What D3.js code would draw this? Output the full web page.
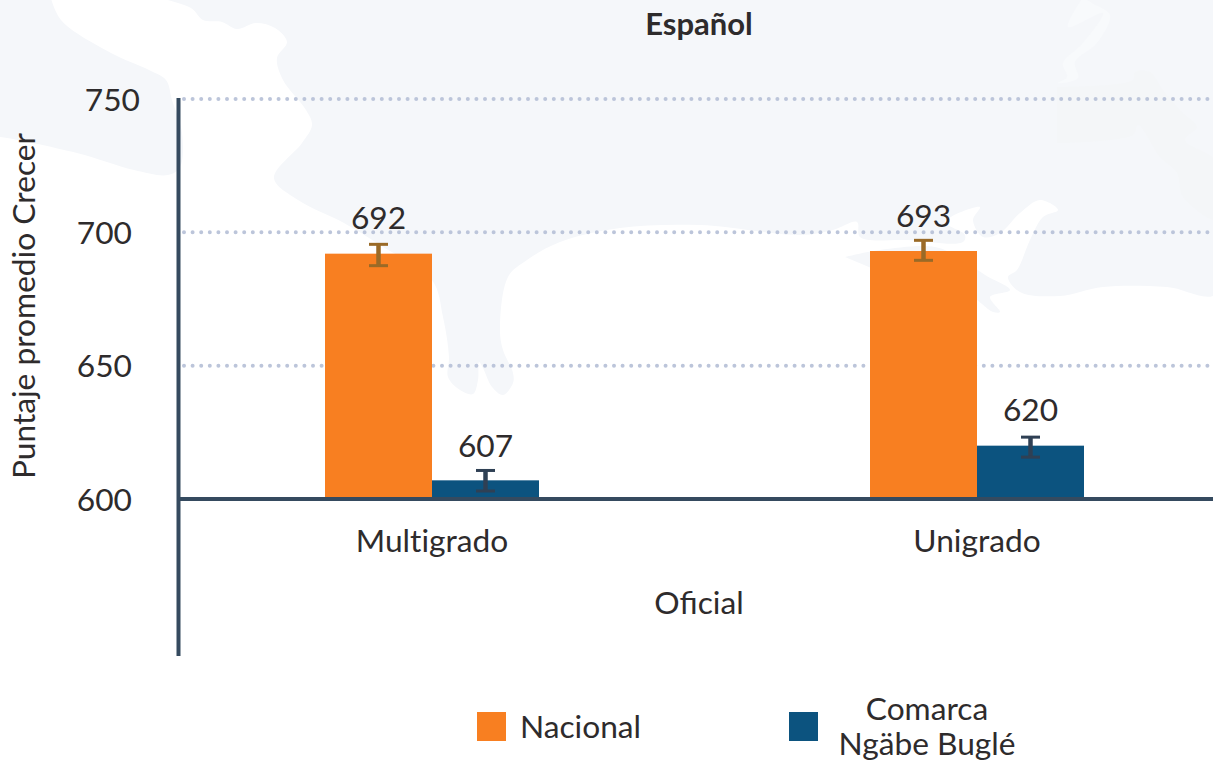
<!DOCTYPE html>
<html><head><meta charset="utf-8">
<script src="https://cdn.jsdelivr.net/npm/d3@7/dist/d3.min.js"></script>
<style>html,body{margin:0;padding:0;background:#fff;overflow:hidden}svg{display:block}text{font-family:Lato,sans-serif;fill:#2e2b2c}</style>
</head><body><svg id="c" width="1213" height="761"></svg>
<script>
const categories = ["Multigrado", "Unigrado"];
const seriesNames = ["Nacional", "Comarca Ngäbe Buglé"];
const nacional = [692, 693];
const comarca = [607, 620];
const nacionalLow = [687.5, 689.5];
const nacionalHigh = [695.5, 697];
const comarcaLow = [603, 615.7];
const comarcaHigh = [610.7, 623.2];
const yTicks = [600, 650, 700, 750];
const colors = ["#f87f21", "#0c537f"];
const errorColors = ["#9a6a27", "#2f4054"];

const svg = d3.select("#c");
const y = d3.scaleLinear().domain([600, 750]).range([499, 99]);
const x = d3.scaleBand().domain(categories).range([159.5, 1249.5]);
const inner = d3.scaleBand().domain(seriesNames).range([x.bandwidth()/2 - 107, x.bandwidth()/2 + 107]);

// decorative background map
const bg = svg.append("g").attr("fill", "#f5f7fa");
const curve = d3.line().curve(d3.curveCatmullRom.alpha(0.5));
const leftLand = [[50,-5],[61,20],[111,53],[149,70],[166,80],[172,100],[182,133],[180,167],[168,175],[134,170],[77,153],[0,137],[-5,137],[-5,-5]];
const mainLand = [[147,-5],[191,8],[203,20],[222,22],[237,29],[256,23],[275,28],[287,42],[277,58],[283,80],[306,110],[312,125],[302,143],[274,178],[298,200],[344,223],[380,245],[432,280],[443,317],[449,357],[448,377],[460,390],[473,394],[478,380],[479,362],[483,368],[492,387],[503,395],[513,383],[513,373],[503,350],[500,330],[508,277],[527,260],[560,242],[620,228],[700,225],[800,235],[833,230],[857,222],[860,237],[907,240],[963,242],[965,235],[945,222],[980,207],[973,220],[983,237],[1000,233],[1020,213],[1040,200],[1058,210],[1043,217],[1030,240],[1017,270],[1008,277],[1020,292],[1060,296],[1103,287],[1167,287],[1218,293],[1218,-5]];
const island = [[845,257],[880,250],[935,247],[960,258],[985,275],[1010,290],[990,297],[1000,312],[993,312],[965,292],[900,280]];
[leftLand, mainLand, island].forEach(p => bg.append("path").attr("d", curve(p) + "Z"));
const coast = [[1057,87],[1133,80],[1135,72],[1150,72],[1163,90],[1183,113],[1197,127],[1185,140],[1218,163],[1218,220],[1183,197],[1177,173],[1160,157],[1138,125],[1133,135],[1057,143]];
const strip = [[1083,-3],[1068,27],[1103,13],[1083,43],[1063,63],[1067,77],[1058,83],[1078,78],[1075,62],[1097,43],[1110,15],[1095,5]];
svg.append("path").attr("fill", "#f4f6f8").attr("d", curve(coast) + "Z");
svg.append("path").attr("fill", "#f8fafc").attr("d", curve(strip) + "Z");

// grid
yTicks.filter(t => t > 600).forEach(t => svg.append("line")
  .attr("x1", 184).attr("x2", 1213).attr("y1", y(t)).attr("y2", y(t))
  .attr("stroke", "#bcc5da").attr("stroke-width", 4).attr("stroke-linecap", "round").attr("stroke-dasharray", "0 8.6"));

// bars
const rows = categories.map((c, i) => [
  {c, s: seriesNames[0], v: nacional[i], lo: nacionalLow[i], hi: nacionalHigh[i], k: 0},
  {c, s: seriesNames[1], v: comarca[i], lo: comarcaLow[i], hi: comarcaHigh[i], k: 1}
]).flat();
svg.append("g").selectAll("rect").data(rows).join("rect")
  .attr("x", d => x(d.c) + inner(d.s)).attr("width", inner.bandwidth())
  .attr("y", d => y(d.v)).attr("height", d => y(600) - y(d.v))
  .attr("fill", d => colors[d.k]);

// axes
svg.append("line").attr("x1", 178.5).attr("x2", 178.5).attr("y1", 98).attr("y2", 656).attr("stroke", "#354a5f").attr("stroke-width", 4);
svg.append("line").attr("x1", 178).attr("x2", 1213).attr("y1", y(600)).attr("y2", y(600)).attr("stroke", "#354a5f").attr("stroke-width", 4);

// error bars
const cx = d => x(d.c) + inner(d.s) + inner.bandwidth()/2;
const eb = svg.append("g").selectAll("g").data(rows).join("g").attr("stroke", d => errorColors[d.k]).attr("stroke-width", 3);
eb.append("line").attr("x1", cx).attr("x2", cx).attr("y1", d => y(d.lo)).attr("y2", d => y(d.hi)).attr("stroke-width", 4.5);
eb.append("line").attr("x1", d => cx(d) - 9.5).attr("x2", d => cx(d) + 9.5).attr("y1", d => y(d.lo)).attr("y2", d => y(d.lo));
eb.append("line").attr("x1", d => cx(d) - 9.5).attr("x2", d => cx(d) + 9.5).attr("y1", d => y(d.hi)).attr("y2", d => y(d.hi));

// value labels
svg.append("g").selectAll("text").data(rows).join("text")
  .attr("x", cx).attr("y", d => y(d.v) - (d.v === 607 ? 23 : 24.5)).attr("text-anchor", "middle")
  .attr("font-size", 31.7).text(d => d.v);

// tick labels
const yLabelX = {600: 132, 650: 132, 700: 132, 750: 140};
svg.append("g").selectAll("text").data(yTicks).join("text")
  .attr("x", d => yLabelX[d]).attr("y", d => y(d) + 11.5).attr("text-anchor", "end")
  .attr("font-size", 31.7).text(d => d);
svg.append("g").selectAll("text").data(categories).join("text")
  .attr("x", d => x(d) + x.bandwidth()/2).attr("y", 552).attr("text-anchor", "middle")
  .attr("font-size", 31.7).style("font-variant-ligatures", "none").text(d => d);

svg.append("text").attr("x", 699).attr("y", 35).attr("text-anchor", "middle").attr("font-size", 31).attr("font-weight", 700).text("Español");
svg.append("text").attr("x", 699).attr("y", 614).attr("text-anchor", "middle").attr("font-size", 31.7).text("Oficial");
svg.append("text").attr("transform", "translate(35,306) rotate(-90)").attr("text-anchor", "middle").attr("font-size", 31.7).text("Puntaje promedio Crecer");

// legend
const lg = svg.append("g");
lg.append("rect").attr("x", 477).attr("y", 712).attr("width", 29).attr("height", 29).attr("fill", colors[0]);
lg.append("text").attr("x", 520).attr("y", 738).attr("font-size", 31.7).text("Nacional");
lg.append("rect").attr("x", 789).attr("y", 712).attr("width", 29).attr("height", 29).attr("fill", colors[1]);
const lt = lg.append("text").attr("text-anchor", "middle").attr("font-size", 31.7);
lt.append("tspan").attr("x", 927).attr("y", 720).text("Comarca");
lt.append("tspan").attr("x", 927).attr("y", 754.5).text("Ngäbe Buglé");
</script></body></html>
